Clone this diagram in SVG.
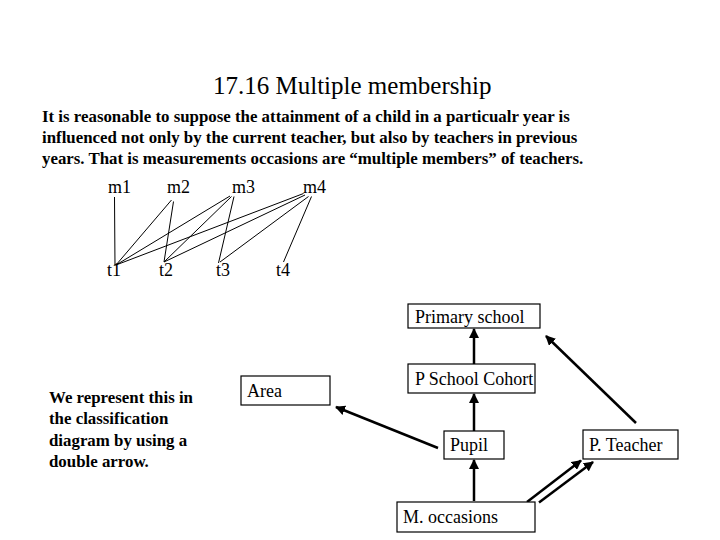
<svg xmlns="http://www.w3.org/2000/svg" width="720" height="540" viewBox="0 0 720 540" font-family="'Liberation Serif', 'DejaVu Serif', serif">
<defs>
<marker id="ah" viewBox="0 0 10 10" refX="9" refY="5" markerWidth="4" markerHeight="4" orient="auto" markerUnits="strokeWidth">
<path d="M0,0 L10,5 L0,10 z" fill="#000"/>
</marker>
</defs>
<style>
.title{font-size:25px}
.para{font-size:16.85px;font-weight:bold}
.lbl{font-size:18px}
.box{fill:#fff;stroke:#000;stroke-width:1.2}
.thin{stroke:#000;stroke-width:1;fill:none}
.arr{stroke:#000;stroke-width:2.5;fill:none;marker-end:url(#ah)}
</style>
<rect width="720" height="540" fill="#fff"/>
<text class="title" x="213" y="94" font-family="Liberation Serif, serif">17.16 Multiple membership</text>
<g id="paragraph" class="para" font-family="Liberation Serif, serif">
<text x="42" y="122">It is reasonable to suppose the attainment of a child in a particualr year is</text>
<text x="42" y="143">influenced not only by the current teacher, but also by teachers in previous</text>
<text x="42" y="164">years. That is measurements occasions are “multiple members” of teachers.</text>
</g>
<g id="membership-lines">
<line class="thin" x1="114.5" y1="197" x2="115" y2="266"/>
<line class="thin" x1="171.5" y1="200" x2="116" y2="265"/>
<line class="thin" x1="173.5" y1="201.5" x2="164" y2="262"/>
<line class="thin" x1="230" y1="196" x2="116" y2="265"/>
<line class="thin" x1="231.5" y1="196.5" x2="164" y2="262"/>
<line class="thin" x1="234" y1="196.5" x2="218.5" y2="263"/>
<line class="thin" x1="303.5" y1="193.5" x2="116" y2="265"/>
<line class="thin" x1="305" y1="195" x2="164" y2="262"/>
<line class="thin" x1="308.5" y1="196.5" x2="220" y2="262"/>
<line class="thin" x1="311.5" y1="196.5" x2="283.5" y2="262"/>
</g>
<g id="m-labels" class="lbl" font-family="Liberation Serif, serif">
<text id="m1" x="108" y="193">m1</text>
<text id="m2" x="167" y="193">m2</text>
<text id="m3" x="232" y="193">m3</text>
<text id="m4" x="303" y="193">m4</text>
</g>
<g id="t-labels" class="lbl" font-family="Liberation Serif, serif">
<text id="t1" x="107" y="276">t1</text>
<text id="t2" x="159" y="276">t2</text>
<text id="t3" x="216" y="276">t3</text>
<text id="t4" x="276" y="276">t4</text>
</g>
<g id="note" class="para" font-family="Liberation Serif, serif">
<text x="49" y="403">We represent this in</text>
<text x="49" y="424">the classification</text>
<text x="49" y="446">diagram by using a</text>
<text x="49" y="467">double arrow.</text>
</g>
<g id="connectors">
<line class="arr" x1="474" y1="364" x2="474" y2="329"/>
<line class="arr" x1="474" y1="431" x2="474" y2="394"/>
<line class="arr" x1="474" y1="501" x2="474" y2="460"/>
<line class="arr" x1="438" y1="448" x2="336" y2="407"/>
<line class="arr" x1="636" y1="423" x2="546" y2="336"/>
<line class="arr" x1="527" y1="502" x2="581" y2="460.5"/>
<line class="arr" x1="539" y1="502.5" x2="593" y2="462"/>
</g>
<g id="primary-school" font-family="Liberation Serif, serif">
<rect class="box" x="408" y="304" width="132" height="24"/>
<text class="lbl" x="415" y="323">Primary school</text>
</g>
<g id="p-school-cohort" font-family="Liberation Serif, serif">
<rect class="box" x="408" y="364" width="127" height="29"/>
<text class="lbl" x="415" y="385">P School Cohort</text>
</g>
<g id="area" font-family="Liberation Serif, serif">
<rect class="box" x="241" y="376" width="89" height="29"/>
<text class="lbl" x="247" y="397">Area</text>
</g>
<g id="pupil" font-family="Liberation Serif, serif">
<rect class="box" x="444" y="431" width="60" height="28"/>
<text class="lbl" x="450" y="451">Pupil</text>
</g>
<g id="p-teacher" font-family="Liberation Serif, serif">
<rect class="box" x="583" y="430" width="95" height="29"/>
<text class="lbl" x="589" y="451">P. Teacher</text>
</g>
<g id="m-occasions" font-family="Liberation Serif, serif">
<rect class="box" x="397" y="502" width="138" height="30"/>
<text class="lbl" x="403" y="523">M. occasions</text>
</g>
</svg>
